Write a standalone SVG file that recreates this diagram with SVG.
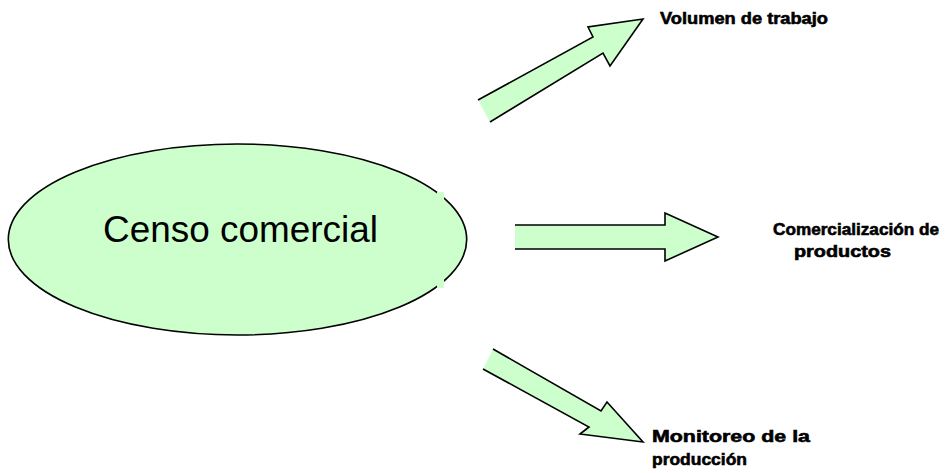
<svg xmlns="http://www.w3.org/2000/svg" width="945" height="473" viewBox="0 0 945 473">
  <style>
    .fill { fill: #ccffcc; stroke: none; }
    .edge { fill: none; stroke: #000; stroke-width: 1.6; stroke-linejoin: miter; }
    .label { font-family: "Liberation Sans", Arial, sans-serif; font-weight: bold; font-size: 17px; fill: #000; stroke: #000; stroke-width: 0.6; }
    .title { font-family: "Liberation Sans", Arial, sans-serif; font-size: 36px; fill: #000; }
  </style>
  <rect width="945" height="473" fill="#fff"/>

  <!-- central node -->
  <g id="censo">
    <ellipse cx="237.5" cy="239.5" rx="229.2" ry="95.5" fill="#ccffcc" stroke="#000" stroke-width="1.6"/>
    <rect x="437" y="192" width="7" height="10" fill="#ccffcc"/>
    <rect x="437" y="278" width="7" height="10" fill="#ccffcc"/>
    <text class="title" x="240.5" y="242" text-anchor="middle" textLength="275" lengthAdjust="spacingAndGlyphs">Censo comercial</text>
  </g>

  <!-- block arrows (tail end left open) -->
  <g id="connectors">
    <g id="arrow-up">
      <polygon class="fill" points="478,100 593,37 588,27 643,19 610,66 603,53 490,122"/>
      <polyline class="edge" points="478,100 593,37 588,27 643,19 610,66 603,53 490,122"/>
    </g>
    <g id="arrow-right">
      <polygon class="fill" points="515,225 665,225 665,213 718,237 665,261 665,249 515,249"/>
      <polyline class="edge" points="515,225 665,225 665,213 718,237 665,261 665,249 515,249"/>
    </g>
    <g id="arrow-down">
      <polygon class="fill" points="493,349 601,411 607,402 643,442 580,434 589,427 483,369"/>
      <polyline class="edge" points="493,349 601,411 607,402 643,442 580,434 589,427 483,369"/>
    </g>
  </g>

  <g id="volumen">
    <text class="label" x="660" y="24" textLength="168" lengthAdjust="spacingAndGlyphs">Volumen de trabajo</text>
  </g>
  <g id="comercializacion">
    <text class="label" x="773" y="235" textLength="166" lengthAdjust="spacingAndGlyphs">Comercialización de</text>
    <text class="label" x="794" y="257" textLength="97" lengthAdjust="spacingAndGlyphs">productos</text>
  </g>
  <g id="monitoreo">
    <text class="label" x="652" y="442" textLength="158" lengthAdjust="spacingAndGlyphs">Monitoreo de la</text>
    <text class="label" x="652" y="465" textLength="95" lengthAdjust="spacingAndGlyphs">producción</text>
  </g>
</svg>
